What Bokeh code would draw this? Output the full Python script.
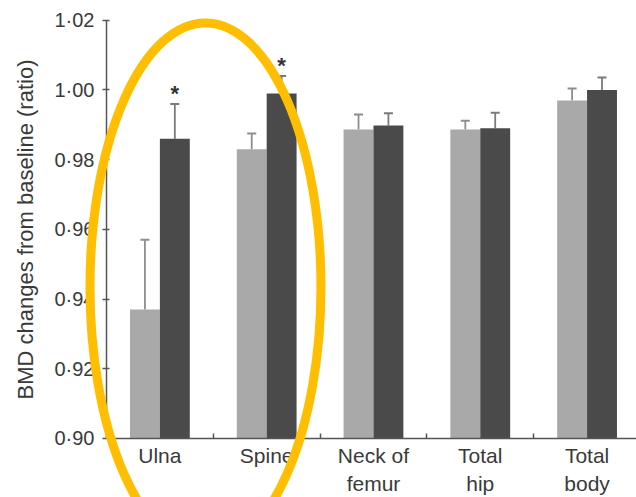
from bokeh.plotting import figure
from bokeh.models import Range1d, FixedTicker, Whisker, ColumnDataSource, TeeHead
from bokeh.embed import file_html
from bokeh.resources import INLINE
from bokeh.core.properties import value

categories = ["Ulna", "Spine", "Neck of\nfemur", "Total\nhip", "Total\nbody"]
group_a = [0.937, 0.983, 0.9887, 0.9887, 0.997]      # light bars
group_a_err = [0.957, 0.9875, 0.993, 0.9912, 1.0004]
group_b = [0.986, 0.999, 0.9898, 0.989, 1.000]       # dark bars
group_b_err = [0.996, 1.004, 0.9933, 0.9935, 1.0036]
significant = [True, True, False, False, False]
y_ticks = [0.90, 0.92, 0.94, 0.96, 0.98, 1.00, 1.02]
y_tick_labels = ["0·90", "0·92", "0·94", "0·96", "0·98", "1·00", "1·02"]

W, H = 636, 497
p = figure(width=W, height=H, output_backend="svg", toolbar_location=None,
           x_range=Range1d(-0.9925, 4.963), y_range=Range1d(0.88307, 1.02568),
           min_border=0, min_border_left=0, min_border_right=0,
           min_border_top=0, min_border_bottom=0)
p.outline_line_color = None
p.grid.visible = False
p.background_fill_color = "white"

n = len(categories)
centers = [i + 0.5 for i in range(n)]
off = 0.14
bw = 0.28
xa = [c - off for c in centers]
xb = [c + off for c in centers]

p.vbar(x=xa, top=group_a, bottom=0.90, width=bw, fill_color="#a9a9a9", line_color=None)
p.vbar(x=xb, top=group_b, bottom=0.90, width=bw, fill_color="#4a4a4a", line_color=None)

src_a = ColumnDataSource(dict(x=xa, lo=group_a, hi=group_a_err))
src_b = ColumnDataSource(dict(x=xb, lo=group_b, hi=group_b_err))
for src, col in ((src_a, "#8e8e8e"), (src_b, "#7a7a7a")):
    w = Whisker(source=src, base="x", lower="lo", upper="hi", line_color=col, line_width=1.8,
                upper_head=TeeHead(size=9, line_color=col, line_width=2), lower_head=None)
    p.add_layout(w)

sx = [xb[i] for i in range(n) if significant[i]]
sy = [group_b_err[i] + 0.0030 for i in range(n) if significant[i]]
p.text(x=sx, y=sy, text=["*"] * len(sx), text_align="center", text_baseline="middle",
       text_font=value("Liberation Sans"), text_font_size="22px", text_font_style="bold",
       text_color="#333333")

# y axis
ya = p.yaxis[0]
ya.fixed_location = 0
ya.bounds = (0.90, 1.02)
ya.ticker = FixedTicker(ticks=y_ticks, minor_ticks=[])
ya.major_label_overrides = {t: l for t, l in zip(y_ticks, y_tick_labels)}
ya.axis_label = "BMD changes from baseline (ratio)"
ya.axis_label_text_font = "Liberation Sans"
ya.axis_label_text_font_style = "normal"
ya.axis_label_text_font_size = "22px"
ya.axis_label_text_color = "#3a3a3a"
ya.axis_label_standoff = 13
ya.major_label_text_font = "Liberation Sans"
ya.major_label_text_font_size = "20px"
ya.major_label_text_color = "#3a3a3a"
ya.major_label_standoff = 8
ya.major_tick_out = 4
ya.major_tick_in = 3
ya.minor_tick_line_color = None
ya.axis_line_color = "#555555"
ya.axis_line_width = 1.5
ya.major_tick_line_color = "#555555"
ya.major_tick_line_width = 1.5

# x axis
xa_ax = p.xaxis[0]
xa_ax.fixed_location = 0.90
xa_ax.bounds = (0, 5)
xa_ax.ticker = FixedTicker(ticks=centers, minor_ticks=[1, 2, 3, 4])
xa_ax.major_label_overrides = {c: l for c, l in zip(centers, categories)}
xa_ax.major_label_text_font = "Liberation Sans"
xa_ax.major_label_text_font_size = "21px"
xa_ax.major_label_text_color = "#3a3a3a"
xa_ax.major_label_standoff = 0
xa_ax.major_tick_line_color = None
xa_ax.minor_tick_in = 5
xa_ax.minor_tick_out = 0
xa_ax.minor_tick_line_color = "#555555"
xa_ax.minor_tick_line_width = 1.5
xa_ax.axis_line_color = "#555555"
xa_ax.axis_line_width = 1.5

# highlight ellipse
e = p.ellipse(x=0.927, y=0.9435, width=2.163, height=0.1515, fill_alpha=0,
              line_color="#FFBE00", line_width=9)
e.level = "overlay"

open("out.html", "w").write(file_html(p, INLINE))
